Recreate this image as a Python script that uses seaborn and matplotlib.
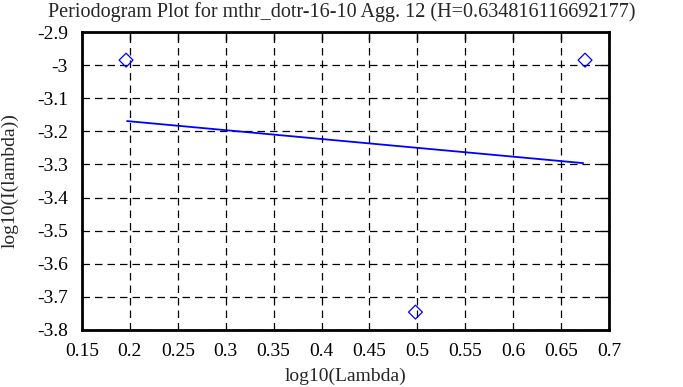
import matplotlib
matplotlib.use("Agg")
import matplotlib.pyplot as plt
import seaborn as sns
import pandas as pd
import numpy as np

# Data
log_lambda = [0.196, 0.498, 0.675]
log_I = [-2.985, -3.746, -2.985]
fit_x = [0.197, 0.673]
fit_y = [-3.169, -3.296]
title = "Periodogram Plot for mthr_dotr-16-10 Agg. 12 (H=0.634816116692177)"
xticks = [0.15, 0.2, 0.25, 0.3, 0.35, 0.4, 0.45, 0.5, 0.55, 0.6, 0.65, 0.7]
yticks = [-3.8, -3.7, -3.6, -3.5, -3.4, -3.3, -3.2, -3.1, -3.0, -2.9]

sns.set_style("white")
plt.rcParams['font.family'] = ['Liberation Serif', 'DejaVu Serif']

fig = plt.figure(figsize=(6.83, 3.87), dpi=100)
ax = fig.add_axes([82/683, 1-330/387, (609-82)/683, (330-32)/387])

pts = pd.DataFrame({"x": log_lambda, "y": log_I})
fit = pd.DataFrame({"x": fit_x, "y": fit_y})
sns.lineplot(data=fit, x="x", y="y", ax=ax, color="blue", linewidth=1.3, zorder=3)
sns.scatterplot(data=pts, x="x", y="y", ax=ax, marker="D", s=50,
                facecolors="none", edgecolor="blue", linewidth=0.9, zorder=4)

ax.set_xlim(0.15, 0.7)
ax.set_ylim(-3.8, -2.9)
ax.set_xticks(xticks)
ax.set_yticks(yticks)
ax.set_xticklabels([f"{v:g}" for v in xticks])
ax.set_yticklabels([f"{v:g}" for v in yticks])
ax.grid(True, color="black", linestyle=(0, (6, 4)), linewidth=0.9)
ax.tick_params(direction="in", length=6, width=1, top=True, right=True,
               labelsize=14, colors="black")
ax.tick_params(axis="x", pad=9)
ax.tick_params(axis="y", pad=10)
for s in ax.spines.values():
    s.set_color("black")
    s.set_linewidth(2)
ax.set_xlabel("log10(Lambda)", fontsize=14)
ax.xaxis.set_label_coords(0.5, -(376 - 330) / 298, transform=ax.transAxes)
ax.xaxis.label.set_va("center")
ax.set_ylabel("log10(I(lambda))", fontsize=14, labelpad=2)
ax.yaxis.set_label_coords(-0.12, 0.5)
fig.text(0.5, 1 - 12 / 387, title, fontsize=14.5, ha="center", va="center")

fig.savefig("out.png", dpi=100)
